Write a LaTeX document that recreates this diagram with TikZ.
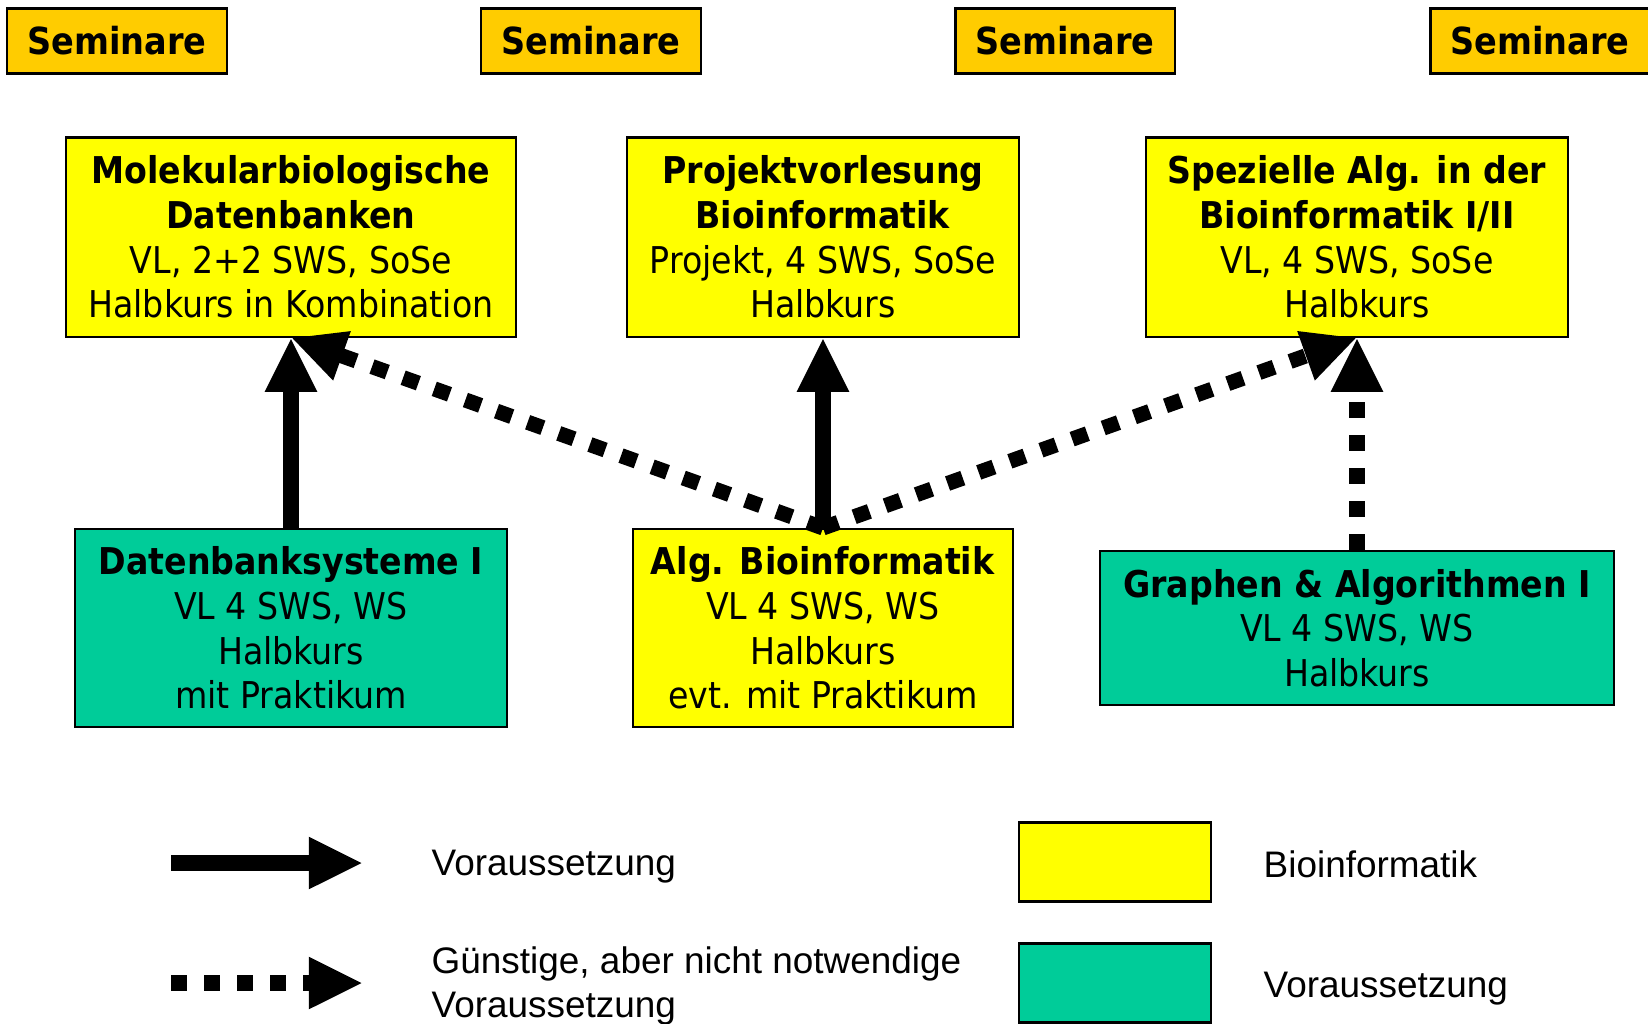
\documentclass[tikz,border=0pt]{standalone}
\usepackage{fontspec}
\setmainfont{DejaVu Sans Condensed}
\newfontfamily\legfont{Liberation Sans}
\usetikzlibrary{arrows.meta}
\definecolor{bioyellow}{RGB}{255,255,0}
\definecolor{vorgreen}{RGB}{0,204,153}
\definecolor{semorange}{RGB}{255,204,0}

\begin{document}
\begin{tikzpicture}[x=0.01cm,y=-0.01cm,
    kurs/.style={draw,line width=0.6pt,align=center,inner sep=0pt,
      font=\fontsize{10.5}{12.7}\selectfont},
    bio/.style={kurs,fill=bioyellow},
    vor/.style={kurs,fill=vorgreen},
    seminar/.style={draw,line width=0.6pt,fill=semorange,inner sep=0pt,
      minimum width=2.19cm,minimum height=0.65cm,font=\fontsize{10.6}{13}\selectfont\bfseries},
    muss/.style={line width=4.3pt,-{Triangle[width=13.7pt,length=15.4pt]}},
    kann/.style={muss,dash pattern=on 4.6pt off 4.8pt},
    legtext/.style={anchor=west,align=left,inner sep=0pt,
      font=\legfont\fontsize{10.5}{12.3}\selectfont}]
  \useasboundingbox (0,0) rectangle (1648,1023);

  % Seminare oben
  \node[seminar] (sem1) at (117,41) {Seminare};
  \node[seminar] (sem2) at (591,41) {Seminare};
  \node[seminar] (sem3) at (1065,41) {Seminare};
  \node[seminar] (sem4) at (1540,41) {Seminare};

  % Vorlesungen
  \node[bio,minimum width=4.5cm,minimum height=1.99cm] (molbio) at (291,237)
    {\textbf{Molekularbiologische}\\\textbf{Datenbanken}\\VL, 2+2 SWS, SoSe\\Halbkurs in Kombination};
  \node[bio,minimum width=3.91cm,minimum height=1.99cm] (projekt) at (823,237)
    {\textbf{Projektvorlesung}\\\textbf{Bioinformatik}\\Projekt, 4 SWS, SoSe\\Halbkurs};
  \node[bio,minimum width=4.22cm,minimum height=1.99cm] (spezalg) at (1357,237)
    {\textbf{Spezielle Alg. in der}\\\textbf{Bioinformatik I/II}\\VL, 4 SWS, SoSe\\Halbkurs};
  \node[vor,minimum width=4.31cm,minimum height=1.98cm] (datenbank) at (291,628)
    {\textbf{Datenbanksysteme I}\\VL 4 SWS, WS\\Halbkurs\\mit Praktikum};
  \node[bio,minimum width=3.8cm,minimum height=1.98cm] (algbio) at (823,628)
    {\textbf{Alg. Bioinformatik}\\VL 4 SWS, WS\\Halbkurs\\evt. mit Praktikum};
  \node[vor,minimum width=5.14cm,minimum height=1.54cm] (graphen) at (1357,628)
    {\textbf{Graphen \& Algorithmen I}\\VL 4 SWS, WS\\Halbkurs};

  % Voraussetzungen
  \draw[muss] (datenbank.north) -- (molbio.south);
  \draw[muss] (algbio.north) -- (projekt.south);
  \draw[kann] (algbio.north) -- (molbio.south);
  \draw[kann] (algbio.north) -- (spezalg.south);
  \draw[kann] (graphen.north) -- (spezalg.south);

  % Legende
  \coordinate (musstart) at (171,863);
  \coordinate (mussende) at (363,863);
  \coordinate (kannstart) at (171,983);
  \coordinate (kannende) at (363,983);
  \draw[muss] (musstart) -- (mussende);
  \draw[kann] (kannstart) -- (kannende);
  \node[legtext] (mussinfo) at (431,867) {Voraussetzung};
  \node[legtext] (kanninfo) at (431,986) {Günstige, aber nicht notwendige\\Voraussetzung};
  \node[draw,line width=0.6pt,fill=bioyellow,minimum width=1.92cm,minimum height=0.79cm] (biofarbe) at (1115,862) {};
  \node[draw,line width=0.6pt,fill=vorgreen,minimum width=1.92cm,minimum height=0.79cm] (vorfarbe) at (1115,983) {};
  \node[legtext] (bioinfo) at (1263,864) {Bioinformatik};
  \node[legtext] (vorinfo) at (1263,989) {Voraussetzung};
\end{tikzpicture}
\end{document}
